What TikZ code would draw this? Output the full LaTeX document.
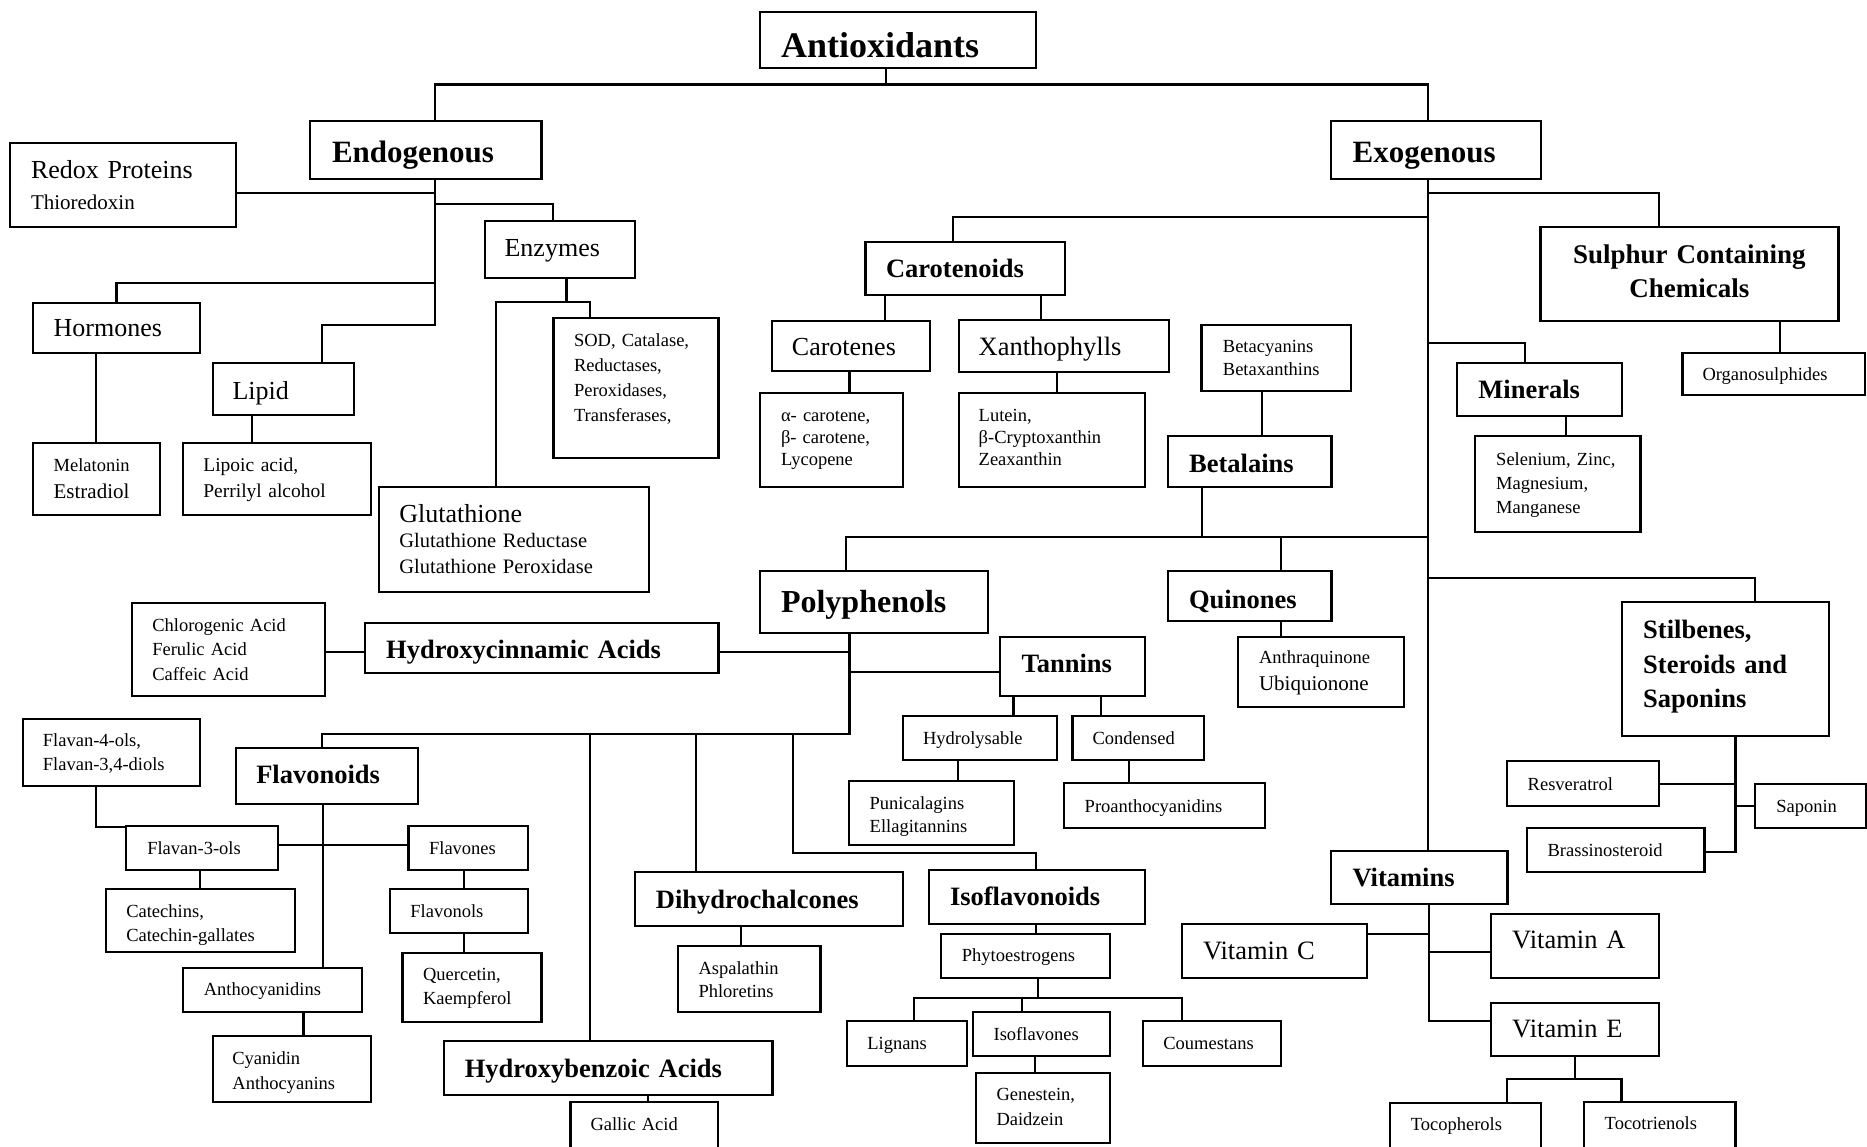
\documentclass[tikz,border=0pt]{standalone}
\usepackage{fontspec}
\setmainfont{Liberation Serif}
\newcommand\FS[2]{\fontsize{#1pt}{#2pt}\selectfont}
\tikzset{
  bxs/.style={draw, rectangle, line width=2.2pt, align=left, inner ysep=0pt},
  link/.style={line width=2.2pt, line cap=rect}
}
% name, x1, y1, x2, y2, left pad, first baseline, style, text
\newcommand\bx[9]{%
  \pgfmathsetmacro\BxW{#4-#2}%
  \pgfmathsetmacro\BxH{#5-#3}%
  \pgfmathsetmacro\BxT{#4-#2-2*(#6)}%
  \pgfmathsetmacro\BxCx{(#2+#4)/2}%
  \pgfmathsetmacro\BxCy{(#3+#5)/2}%
  \pgfmathsetmacro\BxD{2*(\BxCy-(#7))}%
  \pgfmathsetmacro\BxTH{(\BxH-2-\BxD)/2}%
  \pgfmathsetmacro\BxTD{(\BxH-2+\BxD)/2}%
  \node[bxs,#8,minimum width=\BxW pt,minimum height=\BxH pt,text width=\BxT pt,inner xsep=#6pt,text height=\BxTH pt,text depth=\BxTD pt] (#1) at (\BxCx,\BxCy) {#9};%
}
\begin{document}
\begin{tikzpicture}[x=1pt,y=-1pt]
\fill[white] (0,0) rectangle (1867,1146);
\useasboundingbox (0,0) rectangle (1867,1146);

% ---------- boxes ----------
\bx{anti}{760}{12}{1036}{68}{21}{57}{font={\FS{36}{40}\bfseries}}{Antioxidants}
\bx{endo}{310}{121}{541.5}{179}{22}{162}{font={\FS{31}{34}\bfseries}}{Endogenous}
\bx{exo}{1330.6}{121}{1540.8}{179}{22}{162}{font={\FS{31}{34}\bfseries}}{Exogenous}
\bx{redox}{10}{143.3}{236}{227.3}{21}{178}{font={\FS{26}{31}}}{Redox Proteins\\{\FS{21}{31}Thioredoxin}}
\bx{enz}{484.6}{221}{634.6}{278}{20}{256}{font={\FS{26}{30}}}{Enzymes}
\bx{horm}{32.6}{302.7}{199.8}{353.3}{21}{336.5}{font={\FS{26}{30}}}{Hormones}
\bx{lipid}{212.6}{363.3}{353.6}{414.7}{20}{399}{font={\FS{26}{30}}}{Lipid}
\bx{mel}{32.6}{443}{160}{515.3}{21}{471.3}{font={\FS{18.5}{27.4}}}{Melatonin\\{\FS{21}{27.4}Estradiol}}
\bx{lipoic}{182.8}{443}{370.7}{515.3}{20.6}{471.3}{font={\FS{19.5}{26.4}}}{Lipoic acid,\\Perrilyl alcohol}
\bx{sod}{553.5}{317.7}{718.4}{458}{20.5}{346.5}{font={\FS{18.5}{25}}}{SOD, Catalase,\\Reductases,\\Peroxidases,\\Transferases,}
\bx{glut}{378.6}{487}{649}{592}{20.7}{522}{font={\FS{20.5}{25.5}}}{{\FS{26}{25.5}Glutathione}\\Glutathione Reductase\\Glutathione Peroxidase}
\bx{carot}{865.4}{241.7}{1064.8}{294.7}{20.6}{277.5}{font={\FS{26.5}{30}\bfseries}}{Carotenoids}
\bx{carotenes}{771.6}{320.7}{929.7}{370.7}{20.3}{355}{font={\FS{26}{30}}}{Carotenes}
\bx{xan}{958.7}{320}{1168.9}{372.3}{20}{355}{font={\FS{26.5}{30}}}{Xanthophylls}
\bx{alpha}{760}{393}{902.7}{487.3}{21}{421}{font={\FS{18.5}{22}}}{α- carotene,\\β- carotene,\\Lycopene}
\bx{lutein}{958.7}{393}{1144.6}{487.3}{20}{421}{font={\FS{18.5}{22}}}{Lutein,\\β-Cryptoxanthin\\Zeaxanthin}
\bx{betacy}{1201.5}{325}{1351.3}{391.3}{21.4}{352.7}{font={\FS{18.5}{22.3}}}{Betacyanins\\Betaxanthins}
\bx{betal}{1168.1}{436.3}{1331.4}{487.3}{21}{472}{font={\FS{26.5}{30}\bfseries}}{Betalains}
\bx{sulph}{1540.4}{227}{1838.4}{320.7}{20}{263.3}{align=center,font={\FS{27}{34.4}\bfseries}}{Sulphur Containing\\Chemicals}
\bx{organo}{1682.5}{353.3}{1865}{395.3}{20}{380.5}{font={\FS{18.5}{22}}}{Organosulphides}
\bx{minerals}{1457}{363.3}{1621.8}{416}{21.4}{398.5}{font={\FS{26.5}{30}\bfseries}}{Minerals}
\bx{selen}{1475.2}{436.3}{1640.5}{532}{21}{465.3}{font={\FS{18.5}{24.2}}}{Selenium, Zinc,\\Magnesium,\\Manganese}
\bx{poly}{760}{571.3}{987.7}{632.7}{21}{612}{font={\FS{32}{36}\bfseries}}{Polyphenols}
\bx{quin}{1168.1}{571.3}{1331.4}{621.3}{21}{608}{font={\FS{26.5}{30}\bfseries}}{Quinones}
\bx{anthra}{1238}{637}{1403.7}{707}{21}{663.7}{font={\FS{18.5}{26.6}}}{Anthraquinone\\{\FS{21}{26.6}Ubiquionone}}
\bx{tannins}{999.6}{637}{1144.6}{696.3}{22}{672.5}{font={\FS{26.5}{30}\bfseries}}{Tannins}
\bx{hcin}{364.7}{623}{718.4}{672.7}{21.5}{658.5}{font={\FS{26.5}{30}\bfseries}}{Hydroxycinnamic Acids}
\bx{chloro}{132.3}{602.7}{324.6}{696}{20}{631.3}{font={\FS{18.5}{24.5}}}{Chlorogenic Acid\\Ferulic Acid\\Caffeic Acid}
\bx{hydrol}{902.7}{716}{1057.3}{760.3}{20.3}{744}{font={\FS{18.5}{22}}}{Hydrolysable}
\bx{cond}{1072.4}{716}{1204.3}{760.3}{20.2}{744}{font={\FS{18.5}{22}}}{Condensed}
\bx{punic}{849}{780.7}{1014}{845}{20.7}{809}{font={\FS{18.5}{23.3}}}{Punicalagins\\Ellagitannins}
\bx{proan}{1064}{783.3}{1264.6}{828}{20.7}{812}{font={\FS{18.5}{22}}}{Proanthocyanidins}
\bx{stil}{1622.2}{602}{1828.8}{736}{21}{638.7}{font={\FS{26.5}{34.5}\bfseries}}{Stilbenes,\\Steroids and\\Saponins}
\bx{resv}{1507}{761}{1659.2}{805.7}{20.7}{790}{font={\FS{18.5}{22}}}{Resveratrol}
\bx{sapon}{1755.3}{784}{1866}{828.3}{21}{812}{font={\FS{18.5}{22}}}{Saponin}
\bx{brass}{1526.9}{828}{1704.5}{872}{20.7}{856}{font={\FS{18.5}{22}}}{Brassinosteroid}
\bx{flav4}{22.6}{719.3}{199.8}{786}{20.3}{746.3}{font={\FS{18.5}{24.4}}}{Flavan-4-ols,\\Flavan-3,4-diols}
\bx{flavon}{235.6}{747.7}{417.6}{804.3}{20.7}{783.3}{font={\FS{26.5}{30}\bfseries}}{Flavonoids}
\bx{flav3}{126.3}{825.7}{278.1}{870}{21}{854}{font={\FS{18.5}{22}}}{Flavan-3-ols}
\bx{cate}{106.1}{889}{295.2}{951.7}{20.2}{917.3}{font={\FS{18.5}{24}}}{Catechins,\\Catechin-gallates}
\bx{flavones}{408.4}{825.7}{527.6}{870}{20.7}{854}{font={\FS{18.5}{22}}}{Flavones}
\bx{flavonols}{389.7}{889}{527.6}{933.3}{20.7}{917}{font={\FS{18.5}{22}}}{Flavonols}
\bx{querc}{402.5}{953.3}{541.5}{1021.7}{20.6}{980.7}{font={\FS{18.5}{24}}}{Quercetin,\\Kaempferol}
\bx{antho}{182.8}{967.7}{362.3}{1012.3}{21}{995.5}{font={\FS{18.5}{22}}}{Anthocyanidins}
\bx{cyan}{212.6}{1036.3}{370.7}{1102}{19.8}{1064}{font={\FS{18.5}{25}}}{Cyanidin\\Anthocyanins}
\bx{hbenz}{443.8}{1040.7}{772.4}{1094.7}{21}{1077}{font={\FS{26.5}{30}\bfseries}}{Hydroxybenzoic Acids}
\bx{gallic}{570.5}{1102.3}{718}{1150}{20}{1130}{font={\FS{18.5}{22}}}{Gallic Acid}
\bx{dihyd}{634.9}{871.7}{902.7}{926.3}{21}{908}{font={\FS{26.5}{30}\bfseries}}{Dihydrochalcones}
\bx{aspal}{677.8}{945.7}{820.5}{1012.3}{20.7}{974}{font={\FS{18.5}{23.3}}}{Aspalathin\\Phloretins}
\bx{isofl}{929.3}{870}{1144.6}{924}{20.7}{905.7}{font={\FS{26.5}{30}\bfseries}}{Isoflavonoids}
\bx{phyto}{941.2}{934}{1109.7}{978}{20.7}{961}{font={\FS{18.5}{22}}}{Phytoestrogens}
\bx{lign}{846.7}{1021}{967}{1065.7}{20.6}{1049}{font={\FS{18.5}{22}}}{Lignans}
\bx{isofv}{972.6}{1012}{1109.7}{1056.3}{21}{1040.5}{font={\FS{18.5}{22}}}{Isoflavones}
\bx{genes}{975.8}{1073}{1109.7}{1143}{20.7}{1100.7}{font={\FS{18.5}{25}}}{Genestein,\\Daidzein}
\bx{coum}{1142.7}{1021}{1280.6}{1065.7}{20.6}{1049}{font={\FS{18.5}{22}}}{Coumestans}
\bx{vitamins}{1331}{850.7}{1507.4}{904}{21.5}{886.5}{font={\FS{26.5}{30}\bfseries}}{Vitamins}
\bx{vitc}{1181.6}{924}{1366.8}{978}{21.4}{959}{font={\FS{26.5}{30}}}{Vitamin C}
\bx{vita}{1490.7}{914}{1659.2}{978}{21.5}{948.3}{font={\FS{26.5}{30}}}{Vitamin A}
\bx{vite}{1490.7}{1003}{1659.2}{1056.3}{21.5}{1037.3}{font={\FS{26.5}{30}}}{Vitamin E}
\bx{tocoph}{1389.8}{1103.3}{1540.8}{1150}{21}{1130.7}{font={\FS{18.5}{22}}}{Tocopherols}
\bx{tocot}{1583.7}{1102.3}{1735.5}{1150}{21}{1129}{font={\FS{18.5}{22}}}{Tocotrienols}

% ---------- junction coordinates ----------
\coordinate (busL) at (435,84.5);
\coordinate (busM) at (886,84.5);
\coordinate (busR) at (1428,84.5);
\coordinate (en1) at (435,193);
\coordinate (en2) at (435,204.3);
\coordinate (en3) at (435,282.7);
\coordinate (en4) at (435,325);
\coordinate (enzx) at (553,204.3);
\coordinate (hormx) at (116.4,282.7);
\coordinate (lipx) at (322,325);
\coordinate (ez0) at (566.5,301.7);
\coordinate (ezL) at (496,301.7);
\coordinate (ezR) at (590,301.7);
\coordinate (hm) at (96,0);
\coordinate (lp) at (252,0);
\coordinate (ex1) at (1428,192.7);
\coordinate (ex2) at (1428,217);
\coordinate (ex3) at (1428,343);
\coordinate (ex4) at (1428,537);
\coordinate (ex5) at (1428,578.3);
\coordinate (sulx) at (1658.8,192.7);
\coordinate (carx) at (952.8,217);
\coordinate (minx) at (1525,343);
\coordinate (polx) at (846.3,537);
\coordinate (betx) at (1201.9,537);
\coordinate (quix) at (1281,537);
\coordinate (stix) at (1755.3,578.3);
\coordinate (org) at (1779.6,0);
\coordinate (ca1) at (885.2,0);
\coordinate (ca2) at (1041,0);
\coordinate (ca3) at (849.5,0);
\coordinate (ca4) at (1057.2,0);
\coordinate (bt) at (1262.3,0);
\coordinate (mn) at (1565.8,0);
\coordinate (qn) at (1281,0);
\coordinate (st0) at (1735.5,852);
\coordinate (st1) at (1735.5,784);
\coordinate (st2) at (1735.5,806);
\coordinate (pp1) at (849.5,652.3);
\coordinate (pp2) at (849.5,672.3);
\coordinate (pp3) at (849.5,734.3);
\coordinate (ppL) at (321.8,734.3);
\coordinate (pp4) at (590,734.3);
\coordinate (pp5) at (695.7,734.3);
\coordinate (pp6) at (793,734.3);
\coordinate (pp7) at (793,853.3);
\coordinate (pp8) at (1036.2,853.3);
\coordinate (ch) at (0,652);
\coordinate (tn1) at (1013.5,0);
\coordinate (tn2) at (1101,0);
\coordinate (tn3) at (958.3,0);
\coordinate (tn4) at (1128.8,0);
\coordinate (fv1) at (322.6,844.7);
\coordinate (fv2) at (96.1,827.3);
\coordinate (fv3) at (199.8,0);
\coordinate (fv4) at (463.6,0);
\coordinate (fv5) at (303.5,0);
\coordinate (hb) at (647.6,0);
\coordinate (dh) at (741,0);
\coordinate (if1) at (1036.2,0);
\coordinate (if2) at (1037.8,997.7);
\coordinate (ifL) at (914.2,997.7);
\coordinate (ifM) at (1022.3,997.7);
\coordinate (ifR) at (1181.6,997.7);
\coordinate (if3) at (1034.6,0);
\coordinate (vt1) at (1428.8,934);
\coordinate (vt2) at (1428.8,951.7);
\coordinate (vt3) at (1428.8,1021);
\coordinate (ve0) at (1575,1079.3);
\coordinate (veL) at (1507,1079.3);
\coordinate (veR) at (1621.4,1079.3);

% ---------- connectors ----------
\draw[link] (anti.south -| busM) -- (busM);
\draw[link] (endo.north -| busL) -- (busL) -- (busR) -- (exo.north -| busR);
% endogenous
\draw[link] (endo.south -| en1) -- (en4);
\draw[link] (redox.east |- en1) -- (en1);
\draw[link] (en2) -- (enzx) -- (enz.north -| enzx);
\draw[link] (en3) -- (hormx) -- (horm.north -| hormx);
\draw[link] (en4) -- (lipx) -- (lipid.north -| lipx);
\draw[link] (enz.south -| ez0) -- (ez0);
\draw[link] (glut.north -| ezL) -- (ezL) -- (ezR) -- (sod.north -| ezR);
\draw[link] (horm.south -| hm) -- (mel.north -| hm);
\draw[link] (lipid.south -| lp) -- (lipoic.north -| lp);
% exogenous
\draw[link] (exo.south -| ex1) -- (vitamins.north -| ex1);
\draw[link] (ex1) -- (sulx) -- (sulph.north -| sulx);
\draw[link] (ex2) -- (carx) -- (carot.north -| carx);
\draw[link] (ex3) -- (minx) -- (minerals.north -| minx);
\draw[link] (ex4) -- (polx) -- (poly.north -| polx);
\draw[link] (betal.south -| betx) -- (betx);
\draw[link] (quix) -- (quin.north -| quix);
\draw[link] (ex5) -- (stix) -- (stil.north -| stix);
\draw[link] (sulph.south -| org) -- (organo.north -| org);
\draw[link] (carot.south -| ca1) -- (carotenes.north -| ca1);
\draw[link] (carot.south -| ca2) -- (xan.north -| ca2);
\draw[link] (carotenes.south -| ca3) -- (alpha.north -| ca3);
\draw[link] (xan.south -| ca4) -- (lutein.north -| ca4);
\draw[link] (betacy.south -| bt) -- (betal.north -| bt);
\draw[link] (minerals.south -| mn) -- (selen.north -| mn);
\draw[link] (quin.south -| qn) -- (anthra.north -| qn);
\draw[link] (stil.south -| st0) -- (st0) -- (brass.east |- st0);
\draw[link] (resv.east |- st1) -- (st1);
\draw[link] (st2) -- (sapon.west |- st2);
% polyphenols
\draw[link] (poly.south -| pp1) -- (pp3) -- (ppL) -- (flavon.north -| ppL);
\draw[link] (hcin.east |- pp1) -- (pp1);
\draw[link] (pp2) -- (tannins.west |- pp2);
\draw[link] (pp4) -- (hbenz.north -| pp4);
\draw[link] (pp5) -- (dihyd.north -| pp5);
\draw[link] (pp6) -- (pp7) -- (pp8) -- (isofl.north -| pp8);
\draw[link] (chloro.east |- ch) -- (hcin.west |- ch);
\draw[link] (tannins.south -| tn1) -- (hydrol.north -| tn1);
\draw[link] (tannins.south -| tn2) -- (cond.north -| tn2);
\draw[link] (hydrol.south -| tn3) -- (punic.north -| tn3);
\draw[link] (cond.south -| tn4) -- (proan.north -| tn4);
% flavonoids
\draw[link] (flavon.south -| fv1) -- (antho.north -| fv1);
\draw[link] (flav3.east |- fv1) -- (flavones.west |- fv1);
\draw[link] (flav4.south -| fv2) -- (fv2) -- (flav3.west |- fv2);
\draw[link] (flav3.south -| fv3) -- (cate.north -| fv3);
\draw[link] (flavones.south -| fv4) -- (flavonols.north -| fv4);
\draw[link] (flavonols.south -| fv4) -- (querc.north -| fv4);
\draw[link] (antho.south -| fv5) -- (cyan.north -| fv5);
\draw[link] (hbenz.south -| hb) -- (gallic.north -| hb);
\draw[link] (dihyd.south -| dh) -- (aspal.north -| dh);
% isoflavonoids
\draw[link] (isofl.south -| if1) -- (phyto.north -| if1);
\draw[link] (phyto.south -| if2) -- (if2);
\draw[link] (lign.north -| ifL) -- (ifL) -- (ifR) -- (coum.north -| ifR);
\draw[link] (ifM) -- (isofv.north -| ifM);
\draw[link] (isofv.south -| if3) -- (genes.north -| if3);
% vitamins
\draw[link] (vitamins.south -| vt3) -- (vt3) -- (vite.west |- vt3);
\draw[link] (vitc.east |- vt1) -- (vt1);
\draw[link] (vt2) -- (vita.west |- vt2);
\draw[link] (vite.south -| ve0) -- (ve0);
\draw[link] (tocoph.north -| veL) -- (veL) -- (veR) -- (tocot.north -| veR);
\end{tikzpicture}
\end{document}
